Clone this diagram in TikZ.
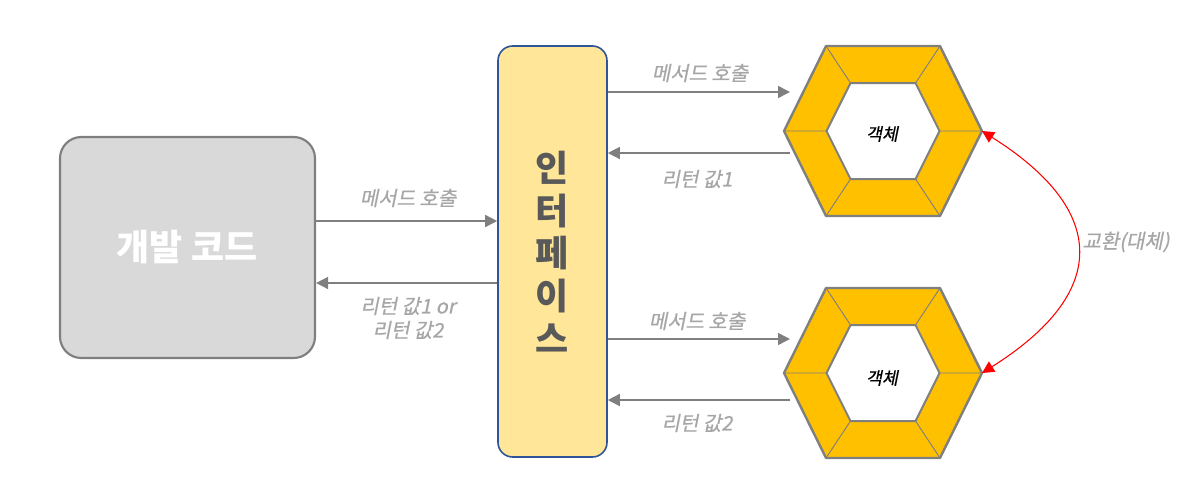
\documentclass[tikz,border=0pt]{standalone}
\usepackage{fontspec}
\usetikzlibrary{arrows.meta}
\newfontfamily\kr{Noto Sans CJK KR}
\newfontfamily\krit[FakeSlant=0.2,FakeBold=0.6]{Noto Sans CJK KR}
\definecolor{arrgray}{HTML}{7F7F7F}
\definecolor{lblgray}{HTML}{A6A6A6}
\definecolor{devfill}{HTML}{D9D9D9}
\definecolor{ifill}{HTML}{FFE699}
\definecolor{iedge}{HTML}{2F5597}
\definecolor{itext}{HTML}{595959}
\definecolor{hexfill}{HTML}{FFC000}
\begin{document}
\begin{tikzpicture}[x=0.75pt,y=-0.75pt,
  devbox/.style={draw=arrgray, line width=1.6pt, fill=devfill, rounded corners=16pt,
    minimum width=191.25pt, minimum height=165.75pt, inner sep=0pt},
  ifbox/.style={draw=iedge, line width=1.2pt, fill=ifill, rounded corners=11pt,
    minimum width=81.75pt, minimum height=308.25pt, inner sep=0pt,
    align=center, text=itext, font=\kr\bfseries\fontsize{27pt}{32pt}\selectfont},
  arr/.style={draw=arrgray, line width=1.1pt, -{Triangle[length=9pt,width=9pt]}},
  lbl/.style={text=lblgray, font=\krit\fontsize{15pt}{18pt}\selectfont, align=center, inner sep=0pt},
  objlbl/.style={text=black, font=\krit\fontsize{13pt}{15pt}\selectfont, inner sep=0pt},
  hexring/.pic={
    \fill[hexfill] (-99,0)--(-57,-85)--(57,-85)--(99,0)--(57,85)--(-57,85)--cycle;
    \fill[white] (-56.5,0)--(-32.5,-48)--(32.5,-48)--(56.5,0)--(32.5,48)--(-32.5,48)--cycle;
    \draw[arrgray, line width=0.7pt] (-99,0)--(-56.5,0) (-57,-85)--(-32.5,-48) (57,-85)--(32.5,-48)
      (99,0)--(56.5,0) (57,85)--(32.5,48) (-57,85)--(-32.5,48);
    \draw[arrgray, line width=1.5pt] (-56.5,0)--(-32.5,-48)--(32.5,-48)--(56.5,0)--(32.5,48)--(-32.5,48)--cycle;
    \draw[arrgray, line width=1.8pt, line join=round] (-99,0)--(-57,-85)--(57,-85)--(99,0)--(57,85)--(-57,85)--cycle;
    \coordinate (-E) at (99,0);
  }]
\useasboundingbox (0,0) rectangle (1193,501);

% boxes
\node[devbox] (dev) at (187.5,247.5) {};
\node[text=white, font=\kr\bfseries\fontsize{27pt}{30pt}\selectfont] (devtxt) at (187,247) {개발 코드};
\node[ifbox] (iface) at (552.5,251.5) {인\\터\\페\\이\\스};

% hexagons
\pic (h1) at (883,131) {hexring};
\pic (h2) at (883,373) {hexring};
\node[objlbl] (o1) at (882,134) {객체};
\node[objlbl] (o2) at (882,378) {객체};

% connector anchor points
\coordinate (c1) at (0,221);
\coordinate (c2) at (0,283);
\coordinate (t1) at (790,92);
\coordinate (t2) at (790,153);
\coordinate (b1) at (790,339);
\coordinate (b2) at (790,400);

% left connectors
\draw[arr] (dev.east |- c1) -- (iface.west |- c1);
\draw[arr] (iface.west |- c2) -- (dev.east |- c2);
\node[lbl] (l1) at (408,198) {메서드 호출};
\node[lbl] (l2) at (408,318) {리턴 값1 or\\리턴 값2};

% right connectors
\draw[arr] (iface.east |- t1) -- (t1);
\draw[arr] (t2) -- (iface.east |- t2);
\draw[arr] (iface.east |- b1) -- (b1);
\draw[arr] (b2) -- (iface.east |- b2);
\node[lbl] (r1) at (700,73) {메서드 호출};
\node[lbl] (r2) at (697,179) {리턴 값1};
\node[lbl] (r3) at (697,321) {메서드 호출};
\node[lbl] (r4) at (697,423) {리턴 값2};

% exchange arc
\draw[red, line width=0.8pt, {Triangle[length=9pt,width=9pt]}-{Triangle[length=9pt,width=9pt]}]
  (h1-E) .. controls (1109,211) and (1109,293) .. (h2-E);
\node[lbl] (ex) at (1126,242) {교환(대체)};
\end{tikzpicture}
\end{document}
